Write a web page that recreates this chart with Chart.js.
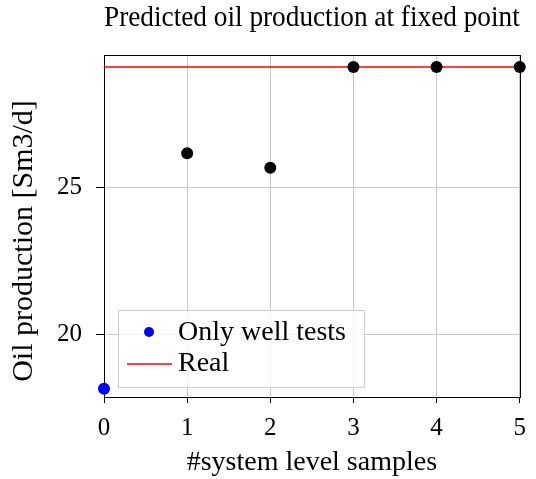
<!DOCTYPE html>
<html>
<head>
<meta charset="utf-8">
<script src="https://cdn.jsdelivr.net/npm/chart.js@4/dist/chart.umd.min.js"></script>
<style>
html,body{margin:0;padding:0;background:#fff;}
#wrap{width:536px;height:479px;}
</style>
</head>
<body>
<div id="wrap"><canvas id="c" width="536" height="479"></canvas></div>
<script>
// ---- data ----
const chartTitle = "Predicted oil production at fixed point";
const xAxisTitle = "#system level samples";
const yAxisTitle = "Oil production [Sm3/d]";
const jointX = [1, 2, 3, 4, 5];
const jointY = [26.18, 25.68, 29.11, 29.11, 29.11];
const wellTestX = [0];
const wellTestY = [18.16];
const realX = [0, 5];
const realY = [29.11, 29.11];
const xTicks = [0, 1, 2, 3, 4, 5];
const yTicks = [20, 25];
const labels = { joint: "System level samples", well: "Only well tests", real: "Real" };

const FONT = "'Liberation Serif', serif";
const toPts = (xs, ys) => xs.map((x, i) => ({ x: x, y: ys[i] }));

const framePlugin = {
  id: 'frame',
  beforeDatasetsDraw(chart) {
    const { ctx, chartArea: a } = chart;
    ctx.save();
    ctx.strokeStyle = '#000';
    ctx.lineWidth = 1;
    ctx.strokeRect(Math.round(a.left) + 0.5, Math.round(a.top) + 0.5,
      Math.round(a.right - a.left), Math.round(a.bottom - a.top));
    ctx.restore();
  }
};

const yTitlePlugin = {
  id: 'yTitle',
  afterDraw(chart) {
    const { ctx } = chart;
    ctx.save();
    ctx.translate(24, 241);
    ctx.rotate(-Math.PI / 2);
    ctx.fillStyle = '#000';
    ctx.font = "30px " + FONT;
    ctx.textAlign = 'center';
    ctx.textBaseline = 'middle';
    ctx.fillText(yAxisTitle, 0, 0);
    ctx.restore();
  }
};

const legendPlugin = {
  id: 'boxLegend',
  afterDraw(chart) {
    const { ctx } = chart;
    const well = chart.data.datasets[1];
    const real = chart.data.datasets[2];
    const bx = 118, by = 310, bw = 246, bh = 77;
    ctx.save();
    ctx.fillStyle = 'rgba(255,255,255,0.8)';
    ctx.fillRect(bx, by, bw, bh);
    ctx.strokeStyle = '#cccccc';
    ctx.lineWidth = 1;
    ctx.strokeRect(bx + 0.5, by + 0.5, bw, bh);
    ctx.fillStyle = well.backgroundColor;
    ctx.beginPath();
    ctx.arc(149, 332, 5, 0, Math.PI * 2);
    ctx.fill();
    ctx.strokeStyle = real.borderColor;
    ctx.lineWidth = 1.5;
    ctx.beginPath();
    ctx.moveTo(127, 364);
    ctx.lineTo(172, 364);
    ctx.stroke();
    ctx.fillStyle = '#000';
    ctx.font = "28px " + FONT;
    ctx.textBaseline = 'middle';
    ctx.textAlign = 'left';
    ctx.fillText(well.label, 178, 333);
    ctx.fillText(real.label, 178, 364);
    ctx.restore();
  }
};

new Chart(document.getElementById('c'), {
  type: 'scatter',
  data: {
    datasets: [
      {
        label: labels.joint,
        data: toPts(jointX, jointY),
        backgroundColor: '#000000',
        borderColor: '#000000',
        borderWidth: 0,
        pointRadius: 6,
        clip: false,
        order: 0
      },
      {
        label: labels.well,
        data: toPts(wellTestX, wellTestY),
        backgroundColor: '#0000ff',
        borderColor: '#0000ff',
        borderWidth: 0,
        pointRadius: 6,
        clip: false,
        order: 1
      },
      {
        label: labels.real,
        data: toPts(realX, realY),
        showLine: true,
        borderColor: '#ff0000',
        backgroundColor: '#ff0000',
        borderWidth: 1.5,
        pointRadius: 0,
        clip: false,
        order: 2
      }
    ]
  },
  options: {
    responsive: false,
    animation: false,
    devicePixelRatio: 1,
    layout: { padding: { left: 0, right: 15, top: 0, bottom: 0 } },
    plugins: {
      legend: { display: false },
      tooltip: { enabled: false },
      title: {
        display: true,
        fullSize: false,
        text: chartTitle,
        color: '#000',
        font: { family: FONT, size: 29, weight: 'normal', lineHeight: 1.2 },
        padding: { top: 0.5, bottom: 19.7 }
      }
    },
    scales: {
      x: {
        type: 'linear',
        min: 0,
        max: 5,
        afterBuildTicks: s => { s.ticks = xTicks.map(v => ({ value: v })); },
        afterFit: s => { s.height = 82; },
        grid: { color: '#c8c8c8', lineWidth: 1, tickColor: '#000', tickLength: 6, drawTicks: true },
        border: { display: false },
        ticks: { color: '#000', font: { family: FONT, size: 25 }, padding: 10, maxRotation: 0 },
        title: { display: true, text: xAxisTitle, color: '#000', font: { family: FONT, size: 28 }, padding: { top: 0, bottom: 0 } }
      },
      y: {
        type: 'linear',
        min: 17.88,
        max: 29.52,
        afterBuildTicks: s => { s.ticks = yTicks.map(v => ({ value: v })); },
        afterFit: s => { s.width = 104; },
        grid: { color: '#c8c8c8', lineWidth: 1, tickColor: '#000', tickLength: 8, drawTicks: true },
        border: { display: false },
        ticks: { color: '#000', font: { family: FONT, size: 25 }, padding: 14 },
        title: { display: false, text: yAxisTitle }
      }
    }
  },
  plugins: [framePlugin, legendPlugin, yTitlePlugin]
});
</script>
</body>
</html>
